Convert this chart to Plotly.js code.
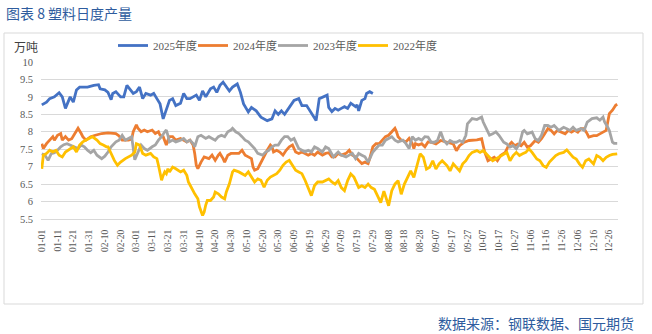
<!DOCTYPE html>
<html>
<head>
<meta charset="utf-8">
<script src="https://cdn.plot.ly/plotly-3.0.1.min.js"></script>
<style>
  html, body { margin: 0; padding: 0; background: #ffffff; }
  #chart { width: 652px; height: 334px; }
</style>
</head>
<body>
<div id="chart"></div>
<script>
// Tick labels (every 10th day of the year)
const tickLabels = ["01-01","01-11","01-21","01-31","02-10","02-20","03-01","03-11","03-21","03-31",
  "04-10","04-20","04-30","05-10","05-20","05-30","06-09","06-19","06-29","07-09","07-19","07-29",
  "08-08","08-18","08-28","09-07","09-17","09-27","10-07","10-17","10-27","11-06","11-16","11-26",
  "12-06","12-16","12-26"];

const seriesNames = ["2025年度","2024年度","2023年度","2022年度"];

// [day-of-year index, output (万吨)]
const data2025 = [[0,8.77],[3,8.85],[5,8.95],[8,9.0],[11,9.12],[13,9.0],[15,8.67],[16,8.8],[18,9.0],[20,8.85],
  [22,9.2],[24,9.28],[29,9.28],[33,9.33],[36,9.35],[37,9.23],[40,9.2],[42,9.13],[44,8.92],[45,9.1],
  [47,9.15],[50,9.0],[52,9.0],[54,9.33],[56,9.23],[58,9.1],[60,9.15],[62,9.28],[64,8.95],[66,9.1],
  [69,9.05],[71,9.1],[73,8.95],[75,8.8],[77,8.37],[79,8.67],[81,8.9],[83,8.95],[85,8.75],[88,8.82],
  [90,9.1],[92,8.95],[94,8.95],[98,9.05],[100,8.9],[102,9.17],[104,9.0],[107,9.23],[109,9.28],[111,9.13],
  [113,9.33],[115,9.42],[117,9.28],[119,9.17],[121,9.28],[124,9.37],[126,9.13],[128,8.8],[131,8.57],[133,8.7],
  [136,8.6],[139,8.42],[143,8.32],[146,8.37],[148,8.6],[150,8.5],[152,8.6],[154,8.5],[157,8.7],[160,8.9],
  [163,8.95],[165,8.75],[168,8.75],[170,8.6],[172,8.47],[174,8.32],[176,8.95],[178,9.0],[181,9.05],[182,8.7],
  [184,8.58],[186,8.67],[188,8.62],[190,8.67],[192,8.72],[194,8.67],[196,8.82],[199,8.72],[200,8.77],[201,8.6],
  [203,8.9],[205,8.95],[206,9.1],[208,9.15],[210,9.1]];

const data2024 = [[0,7.66],[1,7.52],[3,7.66],[5,7.76],[7,7.86],[8,7.76],[10,7.9],[12,7.95],[13,7.76],[15,7.86],
  [17,7.76],[19,7.8],[21,7.95],[23,8.1],[25,7.95],[26,7.86],[28,7.76],[29,7.8],[31,7.86],[34,7.9],
  [38,7.95],[42,7.97],[47,7.95],[49,7.88],[51,7.76],[55,7.76],[57,7.79],[58,8.0],[60,8.2],[61,8.1],
  [63,8.0],[65,8.05],[67,8.0],[70,8.05],[72,7.95],[74,8.0],[75,7.9],[77,7.86],[79,7.62],[80,7.76],
  [81,7.86],[83,7.86],[85,7.76],[88,7.81],[90,7.76],[92,7.71],[94,7.76],[96,7.62],[97,7.38],[98,7.04],
  [99,6.94],[100,7.04],[101,7.13],[103,7.28],[106,7.23],[108,7.33],[110,7.18],[112,7.33],[113,7.38],[115,7.23],
  [116,7.13],[118,7.33],[120,7.38],[122,7.38],[125,7.38],[127,7.47],[129,7.33],[131,7.28],[133,7.23],[134,6.99],
  [135,6.9],[137,6.94],[140,7.23],[141,7.28],[143,7.47],[145,7.62],[146,7.57],[147,7.42],[149,7.47],[151,7.42],
  [153,7.33],[155,7.47],[157,7.57],[159,7.62],[161,7.42],[163,7.38],[165,7.42],[167,7.38],[169,7.33],[171,7.38],
  [173,7.33],[175,7.42],[178,7.33],[180,7.38],[182,7.4],[184,7.28],[186,7.28],[188,7.38],[190,7.33],[193,7.38],
  [195,7.47],[197,7.33],[199,7.28],[201,7.18],[203,7.09],[205,7.13],[207,7.09],[208,7.23],[210,7.57],[212,7.66],
  [214,7.66],[216,7.76],[218,7.86],[220,7.9],[222,8.0],[224,8.1],[225,8.0],[226,7.86],[228,7.76],[231,7.71],
  [233,7.81],[235,7.66],[236,7.52],[237,7.66],[239,7.62],[241,7.66],[243,7.57],[245,7.71],[247,7.7],[250,7.65],
  [253,7.75],[257,7.7],[261,7.65],[263,7.46],[265,7.6],[268,7.7],[271,7.75],[276,7.77],[279,7.8],[280,7.6],
  [281,7.41],[283,7.17],[285,7.22],[287,7.27],[289,7.17],[291,7.32],[294,7.41],[296,7.6],[298,7.7],[300,7.6],
  [302,7.65],[304,7.6],[306,7.7],[308,7.56],[310,7.6],[313,7.75],[315,7.7],[317,7.8],[319,7.94],[321,8.09],
  [323,8.04],[325,7.94],[327,8.04],[330,7.99],[332,7.94],[334,8.04],[336,7.99],[338,8.04],[340,7.99],[342,8.09],
  [344,8.09],[346,7.94],[347,7.85],[350,7.89],[352,7.89],[354,7.94],[356,7.99],[358,8.04],[359,8.28],[360,8.52],
  [362,8.62],[364,8.76],[365,8.79]];

const data2023 = [[0,7.37],[2,7.33],[4,7.18],[6,7.37],[8,7.4],[10,7.47],[12,7.57],[14,7.63],[16,7.66],[18,7.62],
  [21,7.54],[23,7.52],[25,7.62],[27,7.57],[29,7.47],[31,7.4],[33,7.47],[35,7.33],[38,7.23],[40,7.3],
  [42,7.42],[44,7.57],[47,7.71],[49,7.76],[51,7.9],[53,7.76],[55,7.81],[57,7.86],[59,7.2],[61,7.42],
  [63,7.62],[65,7.52],[67,7.47],[70,7.57],[72,7.62],[74,7.76],[76,7.86],[78,8.0],[79,8.05],[80,7.9],
  [81,7.71],[83,7.76],[85,7.71],[88,7.76],[90,7.81],[92,7.71],[94,7.76],[96,7.66],[97,7.57],[99,7.86],
  [101,7.9],[104,7.81],[106,7.86],[108,7.81],[110,7.76],[112,7.86],[114,7.9],[116,7.86],[118,8.0],[120,8.05],
  [121,8.1],[123,8.0],[125,7.95],[127,7.86],[129,7.76],[131,7.71],[133,7.62],[135,7.52],[137,7.38],[140,7.33],
  [142,7.42],[144,7.47],[146,7.57],[148,7.62],[150,7.62],[152,7.76],[154,7.86],[156,7.86],[158,7.76],[160,7.81],
  [161,7.71],[163,7.52],[165,7.47],[167,7.42],[169,7.47],[171,7.42],[173,7.57],[175,7.52],[178,7.42],[180,7.57],
  [182,7.52],[184,7.33],[185,7.28],[187,7.38],[188,7.42],[190,7.33],[193,7.28],[195,7.33],[197,7.38],[199,7.23],
  [201,7.38],[203,7.33],[205,7.28],[207,7.13],[210,7.42],[212,7.52],[214,7.62],[216,7.62],[218,7.76],[220,7.81],
  [222,7.86],[224,7.76],[226,7.71],[229,7.76],[231,7.66],[233,7.52],[235,7.86],[237,7.76],[239,7.81],[241,7.76],
  [243,7.86],[245,7.85],[247,7.7],[249,7.7],[251,7.75],[253,8.0],[255,7.75],[257,7.65],[259,7.75],[261,7.7],
  [263,7.7],[265,7.75],[267,7.7],[269,7.9],[270,8.23],[273,8.38],[276,8.35],[279,8.42],[280,8.28],[282,8.09],
  [284,7.9],[286,7.94],[288,8.0],[290,7.9],[293,7.7],[295,7.65],[297,7.56],[299,7.6],[301,7.51],[303,7.65],
  [305,8.0],[306,8.04],[308,7.94],[311,7.99],[313,7.8],[315,7.75],[317,7.9],[319,8.18],[321,8.18],[323,8.13],
  [325,8.18],[328,8.04],[331,8.13],[333,8.09],[335,8.04],[337,8.13],[339,8.04],[342,8.09],[344,8.04],[346,8.28],
  [349,8.38],[352,8.4],[354,8.33],[356,8.42],[357,8.28],[359,8.13],[360,8.04],[362,7.7],[363,7.67],[365,7.67]];

const data2022 = [[0,6.94],[1,7.33],[3,7.38],[5,7.47],[7,7.42],[9,7.47],[11,7.33],[13,7.28],[15,7.42],[18,7.52],
  [20,7.57],[22,7.42],[24,7.62],[26,7.71],[28,7.76],[30,7.81],[32,7.86],[35,7.76],[37,7.66],[39,7.62],
  [41,7.57],[42,7.57],[44,7.37],[46,7.18],[48,7.04],[50,7.13],[53,7.23],[55,7.28],[57,7.33],[59,7.42],
  [60,7.66],[62,7.62],[63,7.52],[64,7.38],[66,7.33],[69,7.38],[71,7.28],[73,7.23],[74,7.04],[75,6.85],
  [76,6.61],[77,6.75],[78,6.85],[79,6.8],[80,6.94],[81,6.85],[83,6.99],[85,6.94],[88,6.85],[90,6.9],
  [92,6.75],[93,6.56],[95,6.37],[97,6.22],[99,6.08],[100,5.85],[102,5.6],[103,5.7],[104,5.9],[105,6.03],
  [107,6.03],[109,6.13],[110,6.27],[112,6.22],[114,6.13],[116,6.08],[117,6.27],[119,6.51],[121,6.85],[122,6.9],
  [125,6.85],[127,6.8],[129,6.75],[131,6.85],[133,6.7],[135,6.56],[137,6.65],[139,6.61],[141,6.41],[143,6.61],
  [145,6.7],[147,6.75],[149,6.8],[151,6.9],[153,7.04],[155,7.13],[157,7.18],[159,7.04],[161,6.9],[163,6.85],
  [165,6.8],[167,6.61],[169,6.41],[171,6.17],[173,6.46],[175,6.56],[178,6.56],[180,6.61],[182,6.65],[184,6.56],
  [186,6.5],[188,6.6],[190,6.4],[192,6.31],[194,6.6],[196,6.79],[198,6.7],[201,6.4],[203,6.45],[205,6.4],
  [207,6.5],[209,6.4],[211,6.35],[213,6.16],[215,5.97],[217,6.3],[220,5.88],[222,6.31],[224,6.5],[226,6.6],
  [228,6.21],[230,6.5],[232,6.69],[234,6.88],[236,6.69],[239,7.17],[240,7.37],[242,7.27],[244,6.93],[246,6.98],
  [248,7.17],[250,6.93],[252,7.08],[254,7.17],[257,7.03],[259,6.88],[261,7.08],[263,6.98],[265,6.88],[267,7.08],
  [269,7.17],[271,7.32],[273,7.41],[276,7.46],[278,7.41],[280,7.46],[282,7.37],[284,7.27],[286,7.17],[288,7.22],
  [290,7.27],[292,7.32],[295,7.41],[297,7.17],[299,7.32],[301,7.41],[303,7.32],[305,7.37],[307,7.41],[309,7.51],
  [311,7.41],[314,7.22],[316,7.17],[318,7.03],[320,6.98],[322,7.13],[324,7.22],[326,7.32],[328,7.37],[331,7.41],
  [333,7.48],[335,7.37],[337,7.27],[339,7.22],[341,7.08],[343,6.98],[345,7.17],[347,7.22],[350,7.08],[352,7.32],
  [354,7.27],[356,7.17],[358,7.27],[360,7.32],[362,7.35],[365,7.37]];

const seriesData = [data2025, data2024, data2023, data2022];
const seriesColors = ["#4472C4", "#ED7D31", "#A5A5A5", "#FFC000"];

const serif = "'Liberation Serif', 'Times New Roman', 'Noto Sans CJK SC', serif";
const cjk = "'Noto Sans CJK SC', sans-serif";

const traces = seriesData.map((d, i) => ({
  type: "scatter",
  mode: "lines",
  name: seriesNames[i],
  x: d.map(p => p[0]),
  y: d.map(p => p[1]),
  line: { color: seriesColors[i], width: 2.8 },
  hoverinfo: "skip"
}));
// the last legend entry gets room for its full text so it is not clipped
traces[traces.length - 1].legendwidth = 52;

const W = 652, H = 334;
const L = 41, R = 34, T = 62, B = 115;
const pw = W - L - R, ph = H - T - B;
const px = v => (v - L) / pw;          // pixel -> paper x
const py = v => (H - B - v) / ph;      // pixel -> paper y

const layout = {
  width: W, height: H,
  margin: { l: L, r: R, t: T, b: B, autoexpand: false },
  paper_bgcolor: "#ffffff",
  plot_bgcolor: "#ffffff",
  title: {
    text: "图表 8 塑料日度产量",
    x: 6 / W, xref: "container", xanchor: "left",
    y: 1 - 14 / H, yref: "container", yanchor: "middle",
    font: { family: cjk, size: 14, color: "#2E5C9E" }
  },
  xaxis: {
    range: [-0.5, 365.5],
    tickvals: tickLabels.map((_, i) => i * 10),
    ticktext: tickLabels,
    tickangle: -90,
    tickfont: { family: serif, size: 9.5, color: "#595959" },
    showgrid: false, zeroline: false,
    showline: true, linecolor: "#d9d9d9", linewidth: 1,
    ticks: "", ticklabelstandoff: 6,
    fixedrange: true
  },
  yaxis: {
    range: [5.5, 10],
    tick0: 5.5, dtick: 0.5,
    tickfont: { family: serif, size: 10.5, color: "#595959" },
    showgrid: true, gridcolor: "#d9d9d9", gridwidth: 1,
    zeroline: false, showline: false, ticks: "", ticklabelstandoff: 7,
    fixedrange: true
  },
  showlegend: true,
  legend: {
    orientation: "h",
    x: px(113), xanchor: "left",
    y: py(45.5), yanchor: "middle",
    bgcolor: "rgba(0,0,0,0)",
    borderwidth: 0,
    itemwidth: 30,
    entrywidth: 35, entrywidthmode: "pixels",
    font: { family: serif, size: 11, color: "#595959" },
    traceorder: "normal"
  },
  shapes: [{
    type: "rect", xref: "paper", yref: "paper",
    x0: px(4), x1: px(643), y0: py(304), y1: py(33),
    line: { color: "#d9d9d9", width: 1 }, fillcolor: "rgba(0,0,0,0)", layer: "below"
  }],
  annotations: [
    {
      text: "万吨", xref: "paper", yref: "paper",
      x: px(12), y: py(46.5), xanchor: "left", yanchor: "middle",
      showarrow: false, font: { family: cjk, size: 12, color: "#404040" }
    },
    {
      text: "数据来源：钢联数据、国元期货", xref: "paper", yref: "paper",
      x: px(636), y: py(323), xanchor: "right", yanchor: "middle",
      showarrow: false, font: { family: cjk, size: 14, color: "#2E5C9E" }
    }
  ]
};

Plotly.newPlot("chart", traces, layout, { displayModeBar: false, staticPlot: true });
</script>
</body>
</html>
